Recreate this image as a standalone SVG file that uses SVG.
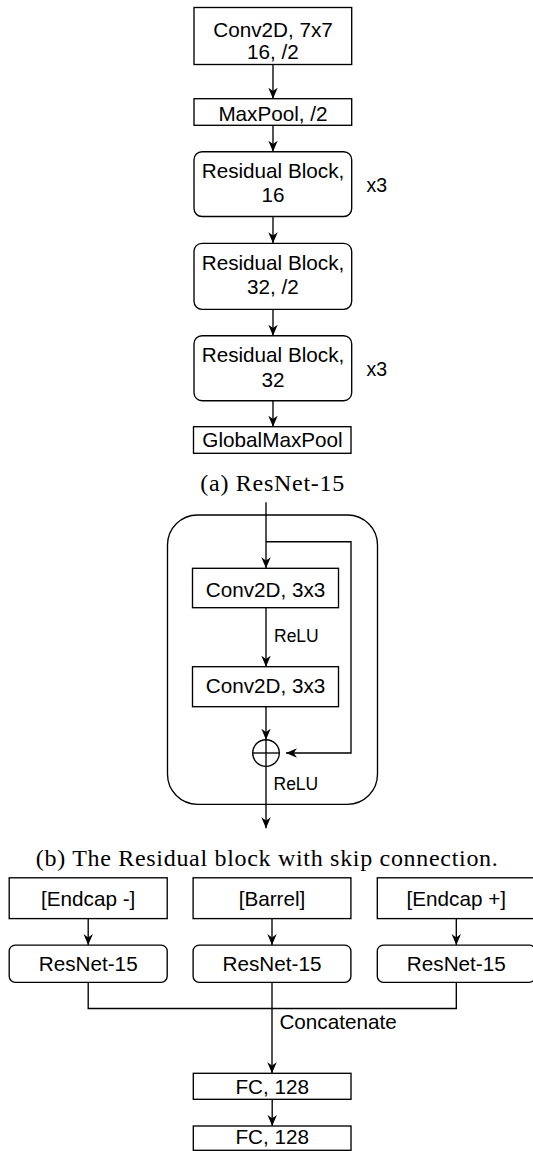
<svg xmlns="http://www.w3.org/2000/svg" width="533" height="1151" viewBox="0 0 533 1151">
  <style>
    .box { fill: #fff; stroke: #000; stroke-width: 1.35; }
    .wire { fill: none; stroke: #000; stroke-width: 1.35; }
    .t { font-family: "Liberation Sans", Arial, Helvetica, sans-serif; font-size: 20.7px; fill: #000; text-anchor: middle; }
    .lbl { font-family: "Liberation Sans", Arial, Helvetica, sans-serif; font-size: 17.5px; fill: #000; }
    .rep { font-family: "Liberation Sans", Arial, Helvetica, sans-serif; font-size: 19.5px; fill: #000; }
    .cap { font-family: "Liberation Serif", "Times New Roman", serif; font-size: 24px; fill: #000; text-anchor: middle; }
  </style>
  <defs>
    <marker id="arrow" viewBox="0 0 11 10" markerWidth="11" markerHeight="10" refX="11" refY="5" orient="auto" markerUnits="userSpaceOnUse">
      <path d="M0,0.3 L11,5 L0,9.7 L3.3,5 Z" fill="#000"/>
    </marker>
  </defs>

  <rect width="533" height="1151" fill="#fff"/>

  <!-- (a) ResNet-15 stack -->
  <g id="conv7x7">
    <rect class="box" x="194" y="7.5" width="157.7" height="57"/>
    <text class="t" x="273" y="37">Conv2D, 7x7</text>
    <text class="t" x="273" y="59">16, /2</text>
  </g>
  <g id="maxpool">
    <rect class="box" x="194" y="98.7" width="157.7" height="26.6"/>
    <text class="t" x="273" y="121">MaxPool, /2</text>
  </g>
  <g id="res16">
    <rect class="box" x="194" y="151.7" width="157.7" height="64.8" rx="8"/>
    <text class="t" x="273" y="178">Residual Block,</text>
    <text class="t" x="273" y="202">16</text>
  </g>
  <g id="res32s2">
    <rect class="box" x="194" y="243.3" width="157.7" height="66" rx="8"/>
    <text class="t" x="273" y="270">Residual Block,</text>
    <text class="t" x="273" y="294.3">32, /2</text>
  </g>
  <g id="res32">
    <rect class="box" x="194" y="335.7" width="157.7" height="65" rx="8"/>
    <text class="t" x="273" y="362">Residual Block,</text>
    <text class="t" x="273" y="386.5">32</text>
  </g>
  <g id="globalmaxpool">
    <rect class="box" x="193.5" y="426.7" width="157.5" height="26.6"/>
    <text class="t" x="272.5" y="446.7">GlobalMaxPool</text>
  </g>
  <g id="repeat-labels">
    <text class="rep" x="366.5" y="191.7">x3</text>
    <text class="rep" x="366.5" y="376">x3</text>
  </g>
  <g id="caption-a">
    <text class="cap" x="272.3" y="490.5" textLength="144" lengthAdjust="spacing">(a) ResNet-15</text>
  </g>

  <!-- (b) residual block -->
  <g id="block-frame">
    <rect class="box" x="167.5" y="515" width="210" height="289.3" rx="30" fill="none"/>
  </g>
  <g id="conv3x3-a">
    <rect class="box" x="192.5" y="568.3" width="146" height="39.4"/>
    <text class="t" x="265.5" y="596.7">Conv2D, 3x3</text>
  </g>
  <g id="conv3x3-b">
    <rect class="box" x="192.5" y="666.7" width="146" height="40"/>
    <text class="t" x="265.5" y="693.3">Conv2D, 3x3</text>
  </g>
  <g id="sum">
    <circle class="box" cx="266" cy="753" r="13.3"/>
    <line class="wire" x1="252.7" y1="753" x2="279.3" y2="753"/>
    <line class="wire" x1="266" y1="739.7" x2="266" y2="766.3"/>
  </g>
  <g id="relu-labels">
    <text class="lbl" x="274" y="642.3">ReLU</text>
    <text class="lbl" x="273.5" y="790">ReLU</text>
  </g>
  <g id="caption-b">
    <text class="cap" x="266.8" y="866" textLength="462" lengthAdjust="spacing">(b) The Residual block with skip connection.</text>
  </g>

  <!-- (c) three-branch network -->
  <g id="in-endcap-minus">
    <rect class="box" x="9.2" y="877.8" width="158" height="40.8"/>
    <text class="t" x="88.2" y="905.5">[Endcap -]</text>
  </g>
  <g id="in-barrel">
    <rect class="box" x="193.1" y="877.8" width="157.8" height="40.8"/>
    <text class="t" x="272" y="905.5">[Barrel]</text>
  </g>
  <g id="in-endcap-plus">
    <rect class="box" x="377.3" y="877.8" width="158" height="40.8"/>
    <text class="t" x="456.3" y="905.5">[Endcap +]</text>
  </g>
  <g id="resnet-minus">
    <rect class="box" x="9.2" y="945.1" width="158" height="37.2" rx="6"/>
    <text class="t" x="88.2" y="970.5">ResNet-15</text>
  </g>
  <g id="resnet-barrel">
    <rect class="box" x="193.1" y="945.1" width="157.8" height="37.2" rx="6"/>
    <text class="t" x="272" y="970.5">ResNet-15</text>
  </g>
  <g id="resnet-plus">
    <rect class="box" x="377.3" y="945.1" width="158" height="37.2" rx="6"/>
    <text class="t" x="456.3" y="970.5">ResNet-15</text>
  </g>
  <g id="concat-label">
    <text class="t" x="279.4" y="1028.9" style="text-anchor:start">Concatenate</text>
  </g>
  <g id="fc1">
    <rect class="box" x="193.3" y="1073.3" width="157.7" height="26"/>
    <text class="t" x="272.2" y="1094">FC, 128</text>
  </g>
  <g id="fc2">
    <rect class="box" x="193.3" y="1126" width="157.7" height="24.3"/>
    <text class="t" x="272.2" y="1144">FC, 128</text>
  </g>

  <g id="connectors">
    <!-- (a) -->
    <line class="wire" x1="273" y1="64.5" x2="273" y2="98.7" marker-end="url(#arrow)"/>
    <line class="wire" x1="273" y1="125.3" x2="273" y2="151.7" marker-end="url(#arrow)"/>
    <line class="wire" x1="273" y1="216.5" x2="273" y2="243.3" marker-end="url(#arrow)"/>
    <line class="wire" x1="273" y1="309.3" x2="273" y2="335.7" marker-end="url(#arrow)"/>
    <line class="wire" x1="273" y1="400.7" x2="273" y2="426.7" marker-end="url(#arrow)"/>
    <!-- (b) -->
    <line class="wire" x1="266" y1="502.3" x2="266" y2="568.3" marker-end="url(#arrow)"/>
    <polyline class="wire" points="266,541.7 351,541.7 351,753 286,753" marker-end="url(#arrow)"/>
    <line class="wire" x1="266" y1="607.7" x2="266" y2="666.7" marker-end="url(#arrow)"/>
    <line class="wire" x1="266" y1="706.7" x2="266" y2="739.7" marker-end="url(#arrow)"/>
    <line class="wire" x1="266" y1="766.3" x2="266" y2="828.3" marker-end="url(#arrow)"/>
    <!-- (c) -->
    <line class="wire" x1="88.2" y1="918.6" x2="88.2" y2="945.1" marker-end="url(#arrow)"/>
    <line class="wire" x1="272" y1="918.6" x2="272" y2="945.1" marker-end="url(#arrow)"/>
    <line class="wire" x1="456.3" y1="918.6" x2="456.3" y2="945.1" marker-end="url(#arrow)"/>
    <polyline class="wire" points="88.2,982.3 88.2,1008.5 456.3,1008.5 456.3,982.3"/>
    <line class="wire" x1="272" y1="982.3" x2="272" y2="1073.3" marker-end="url(#arrow)"/>
    <line class="wire" x1="272.2" y1="1099.3" x2="272.2" y2="1126" marker-end="url(#arrow)"/>
  </g>
</svg>
